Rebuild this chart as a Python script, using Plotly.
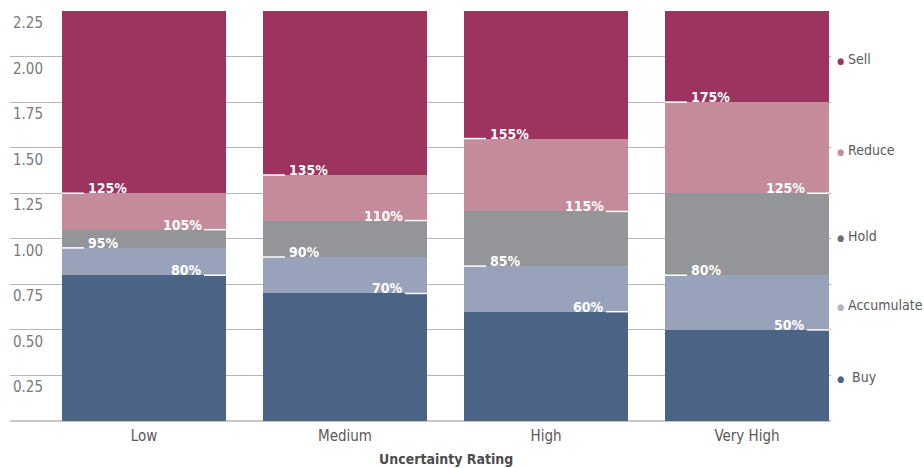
import plotly.graph_objects as go
import numpy as np

categories = ["Low", "Medium", "High", "Very High"]
buy = [0.80, 0.70, 0.60, 0.50]
accumulate = [0.15, 0.20, 0.25, 0.30]
hold = [0.10, 0.20, 0.30, 0.45]
reduce_ = [0.20, 0.25, 0.40, 0.50]
sell = [1.00, 0.90, 0.70, 0.50]
y_ticks = [0.25, 0.50, 0.75, 1.00, 1.25, 1.50, 1.75, 2.00, 2.25]
y_tick_labels = ["0.25", "0.50", "0.75", "1.00", "1.25", "1.50", "1.75", "2.00", "2.25"]

series = [
    ("Buy", buy, "#4b6384", "#4b6384"),
    ("Accumulate", accumulate, "#98a2ba", "#aeb5cb"),
    ("Hold", hold, "#939598", "#6d6e71"),
    ("Reduce", reduce_, "#c48c9a", "#c48c9a"),
    ("Sell", sell, "#9d335f", "#9d335f"),
]

FONT = "DejaVu Sans Condensed, Liberation Sans Narrow, Roboto, sans-serif"
BAR_GAP = 0.184
HALF = (1 - BAR_GAP) / 2

fig = go.Figure()
for name, vals, col, _ in series:
    fig.add_trace(go.Bar(x=categories, y=vals, name=name, marker=dict(color=col, line=dict(width=0)),
                         hoverinfo="skip"))

cum = np.cumsum(np.array([s[1] for s in series]), axis=0)  # rows: buy, acc, hold, reduce, sell
annotations = []
shapes = []
label_rules = [(3, "left"), (2, "right"), (1, "left"), (0, "right")]
for i, cat in enumerate(categories):
    for row, side in label_rules:
        v = float(cum[row, i])
        txt = f"{round(v * 100)}%"
        if side == "left":
            anchor = i - HALF
            shapes.append(dict(type="line", xref="x", yref="y", xsizemode="pixel", xanchor=anchor,
                               x0=0, x1=22, y0=v, y1=v, line=dict(color="white", width=1.5)))
            annotations.append(dict(x=anchor, y=v, xref="x", yref="y", text=f"<b>{txt}</b>",
                                    showarrow=False, xanchor="left", yanchor="bottom", xshift=24, yshift=-5,
                                    font=dict(family=FONT, size=14, color="white")))
        else:
            anchor = i + HALF
            shapes.append(dict(type="line", xref="x", yref="y", xsizemode="pixel", xanchor=anchor,
                               x0=-22, x1=0, y0=v, y1=v, line=dict(color="white", width=1.5)))
            annotations.append(dict(x=anchor, y=v, xref="x", yref="y", text=f"<b>{txt}</b>",
                                    showarrow=False, xanchor="right", yanchor="bottom", xshift=-22, yshift=-5,
                                    font=dict(family=FONT, size=14, color="white")))

# y tick labels placed just below each gridline
for tv, tl in zip(y_ticks, y_tick_labels):
    annotations.append(dict(x=0, y=tv, xref="paper", yref="y", xanchor="left", yanchor="top",
                            xshift=1, yshift=-1, showarrow=False, text=tl,
                            font=dict(family=FONT, size=15, color="#7a7a7a")))

# legend-like labels at right, centered on the last bar's segments
last = len(categories) - 1
prev = 0.0
for r, (name, vals, col, dotcol) in enumerate(series):
    top = float(cum[r, last])
    mid = (prev + top) / 2
    prev = top
    gap = "&nbsp;&nbsp;" if name == "Buy" else "&nbsp;"
    annotations.append(dict(x=1, y=mid, xref="paper", yref="y", xanchor="left", yanchor="middle",
                            xshift=4, yshift=-2, showarrow=False,
                            text=f"<span style='color:{dotcol};font-size:9px'>●</span>{gap}{name}",
                            font=dict(family=FONT, size=14, color="#595959")))

annotations.append(dict(x=1.5, y=0, xref="x", yref="paper", yshift=-38, yanchor="middle", showarrow=False,
                        text="<b>Uncertainty Rating</b>", font=dict(family=FONT, size=14, color="#4d4d4d")))

fig.update_layout(
    width=924, height=468,
    margin=dict(l=10, r=93, t=11, b=47),
    barmode="stack", bargap=BAR_GAP,
    plot_bgcolor="white", paper_bgcolor="white",
    showlegend=False,
    annotations=annotations, shapes=shapes,
    font=dict(family=FONT),
    xaxis=dict(range=[-0.667, 3.418], showgrid=False, showline=False, ticks="",
               ticklabelstandoff=4,
               tickfont=dict(family=FONT, size=15, color="#595959"), fixedrange=True),
    yaxis=dict(range=[0, 2.2501], tickvals=y_ticks, showticklabels=False,
               showgrid=True, gridcolor="#b5b5b5", gridwidth=1,
               zeroline=True, zerolinecolor="#c8c8c8", zerolinewidth=1.5, fixedrange=True),
)

fig.write_html("out.html")
